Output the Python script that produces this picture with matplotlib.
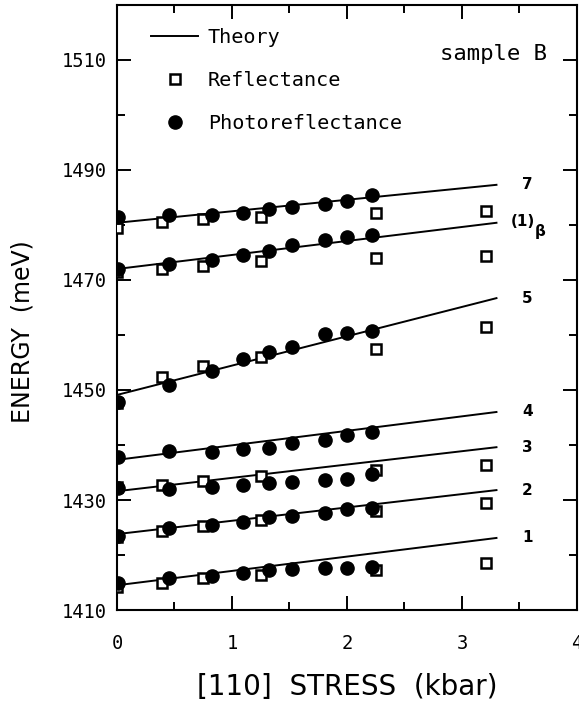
import matplotlib
matplotlib.use("Agg")
import matplotlib.pyplot as plt
from matplotlib.lines import Line2D
import numpy as np

# stress values (kbar)
x_photo = [0.01, 0.45, 0.83, 1.1, 1.32, 1.52, 1.81, 2.0, 2.22]
x_refl = [0.0, 0.39, 0.75, 1.25, 2.25, 3.21]

# photoreflectance energies (meV), one list per transition
photo_7 = [1481.5, 1481.8, 1481.8, 1482.2, 1482.9, 1483.3, 1483.8, 1484.4, 1485.5]
photo_1b = [1472.0, 1472.9, 1473.6, 1474.5, 1475.3, 1476.4, 1477.3, 1477.8, 1478.2]
photo_5 = [1447.8, 1450.9, 1453.5, 1455.6, 1456.9, 1457.8, 1460.2, 1460.4, 1460.7]
photo_4 = [1437.8, 1438.9, 1438.7, 1439.2, 1439.5, 1440.3, 1440.9, 1441.8, 1442.3]
photo_3 = [1432.2, 1432.0, 1432.4, 1432.7, 1433.1, 1433.3, 1433.6, 1433.8, 1434.7]
photo_2 = [1423.5, 1425.0, 1425.5, 1426.0, 1426.9, 1427.1, 1427.6, 1428.4, 1428.5]
photo_1 = [1414.9, 1415.8, 1416.2, 1416.7, 1417.3, 1417.5, 1417.6, 1417.6, 1417.8]

# reflectance energies (meV)
refl_7 = [1479.5, 1480.5, 1481.1, 1481.5, 1482.2, 1482.6]
refl_1b = [1471.5, 1472.0, 1472.6, 1473.5, 1474.0, 1474.4]
refl_5 = [1447.6, 1452.4, 1454.4, 1456.0, 1457.5, 1461.5]
refl_3 = [1432.4, 1432.7, 1433.5, 1434.4, 1435.5, 1436.4]
refl_2 = [1423.3, 1424.4, 1425.3, 1426.4, 1428.0, 1429.5]
refl_1 = [1414.2, 1414.9, 1415.8, 1416.4, 1417.3, 1418.5]

# theory lines: energy at 0 and at 3.3 kbar
theory_x = [0.0, 3.3]
theory_start = [1480.4, 1472.0, 1449.1, 1437.3, 1431.6, 1423.8, 1414.5]
theory_end = [1487.3, 1480.4, 1466.7, 1446.0, 1439.6, 1431.8, 1423.1]
line_names = ["7", "(1)", "5", "4", "3", "2", "1"]

mono = "DejaVu Sans Mono"

fig = plt.figure(figsize=(5.79, 7.08), dpi=100)
ax = fig.add_axes([0.202, 0.1384, 0.7945, 0.8546])

for s, e in zip(theory_start, theory_end):
    ax.plot(theory_x, [s, e], color="black", lw=1.4, zorder=2)

for ys in [refl_7, refl_1b, refl_5, refl_3, refl_2, refl_1]:
    ax.plot(x_refl, ys, ls="none", marker="s", ms=7, mfc="white",
            mec="black", mew=1.8, zorder=3)

for ys in [photo_7, photo_1b, photo_5, photo_4, photo_3, photo_2, photo_1]:
    ax.plot(x_photo, ys, ls="none", marker="o", ms=9.5, color="black",
            zorder=4)

# labels next to theory line ends
for name, e in zip(line_names, theory_end):
    if name == "(1)":
        ax.annotate(name, (3.57, e), xytext=(-3, 1), textcoords="offset points",
                    ha="center", va="center", fontsize=11, fontweight="bold")
        ax.annotate("β", (3.57, e), xytext=(9, -6), textcoords="offset points",
                    ha="center", va="center", fontsize=11, fontweight="bold")
    else:
        ax.annotate(name, (3.57, e), ha="center", va="center", fontsize=11,
                    fontweight="bold")

ax.text(0.935, 0.919, "sample B", transform=ax.transAxes, ha="right",
        va="center", fontsize=16, family=mono)

handles = [
    Line2D([], [], color="black", lw=1.4),
    Line2D([], [], ls="none", marker="s", ms=7, mfc="white", mec="black", mew=1.8),
    Line2D([], [], ls="none", marker="o", ms=9.5, color="black"),
]
ax.legend(handles, ["Theory", "Reflectance", "Photoreflectance"],
          loc="upper left", bbox_to_anchor=(0.075, 0.962), frameon=False,
          borderpad=0, borderaxespad=0, handlelength=2.3, handletextpad=0.5,
          labelspacing=1.2, prop={"family": mono, "size": 14.5})

ax.set_xlim(0, 4)
ax.set_ylim(1410, 1520)
ax.set_xticks([0, 1, 2, 3, 4])
ax.set_xticks(np.arange(0.5, 4, 1), minor=True)
ax.set_yticks([1410, 1430, 1450, 1470, 1490, 1510])
ax.set_yticks(np.arange(1420, 1520, 20), minor=True)
ax.tick_params(which="both", direction="in", top=True, right=True, width=1.4)
ax.tick_params(which="major", length=10)
ax.tick_params(which="minor", length=6)
ax.tick_params(axis="x", pad=17)
ax.tick_params(axis="y", pad=7)
for lab in ax.get_xticklabels() + ax.get_yticklabels():
    lab.set_family(mono)
    lab.set_fontsize(13.5)
for sp in ax.spines.values():
    sp.set_linewidth(1.5)

ax.set_xlabel("[110]  STRESS  (kbar)", fontsize=20, labelpad=15)
ax.set_ylabel("ENERGY  (meV)", fontsize=17)
ax.yaxis.set_label_coords(-0.18, 0.46)

fig.savefig("out.png", dpi=100)
